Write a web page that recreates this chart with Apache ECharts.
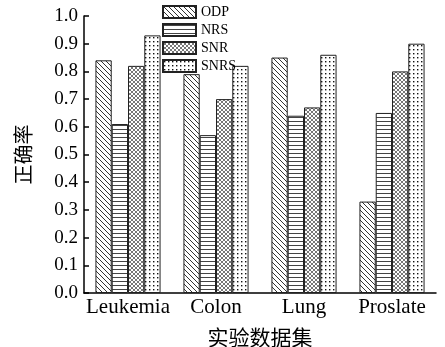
<!DOCTYPE html>
<html><head><meta charset="utf-8">
<script src="https://cdn.jsdelivr.net/npm/echarts@6/dist/echarts.min.js"></script>
<style>html,body{margin:0;padding:0;background:#fff}#c{width:445px;height:347px}</style>
</head><body><div id="c"></div>
<script>
const categories = ['Leukemia', 'Colon', 'Lung', 'Proslate'];
const seriesNames = ['ODP', 'NRS', 'SNR', 'SNRS'];
const odp = [0.84, 0.79, 0.85, 0.33];
const nrs = [0.61, 0.57, 0.64, 0.65];
const snr = [0.82, 0.70, 0.67, 0.80];
const snrs = [0.93, 0.82, 0.86, 0.90];
const yTicks = [0.0, 0.1, 0.2, 0.3, 0.4, 0.5, 0.6, 0.7, 0.8, 0.9, 1.0];
const xTitle = '实验数据集';
const yTitle = '正确率';

function pattern(kind) {
  const c = document.createElement('canvas');
  const ctx = c.getContext('2d');
  if (kind === 'diag') {
    c.width = 5; c.height = 5;
    ctx.fillStyle = '#fff'; ctx.fillRect(0, 0, 5, 5);
    ctx.strokeStyle = '#333'; ctx.lineWidth = 1;
    ctx.beginPath();
    ctx.moveTo(-1, -1); ctx.lineTo(6, 6);
    ctx.moveTo(-1, 4); ctx.lineTo(1, 6);
    ctx.moveTo(4, -1); ctx.lineTo(6, 1);
    ctx.stroke();
  } else if (kind === 'horiz') {
    c.width = 4; c.height = 4;
    ctx.fillStyle = '#fff'; ctx.fillRect(0, 0, 4, 4);
    ctx.fillStyle = '#444'; ctx.fillRect(0, 1, 4, 1);
  } else if (kind === 'cross') {
    c.width = 4; c.height = 4;
    ctx.fillStyle = '#fff'; ctx.fillRect(0, 0, 4, 4);
    ctx.strokeStyle = '#777'; ctx.lineWidth = 1;
    ctx.beginPath();
    ctx.moveTo(-1, -1); ctx.lineTo(5, 5);
    ctx.moveTo(5, -1); ctx.lineTo(-1, 5);
    ctx.stroke();
  } else {
    c.width = 4; c.height = 4;
    ctx.fillStyle = '#fff'; ctx.fillRect(0, 0, 4, 4);
    ctx.fillStyle = '#111'; ctx.fillRect(1, 1, 1.4, 1.4);
  }
  return { image: c, repeat: 'repeat' };
}

const kinds = ['diag', 'horiz', 'cross', 'dots'];
const values = [odp, nrs, snr, snrs];
const serif = '"Liberation Serif", "Times New Roman", "Noto Sans CJK SC", serif';

const chart = echarts.init(document.getElementById('c'), null, { renderer: 'canvas' });
chart.setOption({
  animation: false,
  backgroundColor: '#fff',
  legend: {
    orient: 'vertical', left: 162, top: 5, padding: 0,
    icon: 'rect',
    itemWidth: 33, itemHeight: 12, itemGap: 4,
    textStyle: { fontFamily: serif, fontSize: 14, color: '#000' },
    data: seriesNames
  },
  grid: { left: 84, right: 9, top: 16, bottom: 54, containLabel: false, outerBoundsMode: 'none' },
  xAxis: {
    type: 'category', data: categories,
    name: xTitle, nameLocation: 'middle', nameGap: 36,
    nameTextStyle: { fontFamily: serif, fontSize: 21, color: '#000' },
    axisLine: { lineStyle: { color: '#000', width: 1.5 } },
    axisTick: { show: false },
    axisLabel: { interval: 0, fontFamily: serif, fontSize: 21, color: '#000', margin: 4 }
  },
  yAxis: {
    type: 'value', min: 0, max: 1, interval: 0.1,
    name: yTitle, nameLocation: 'middle', nameGap: 48, nameRotate: 90,
    nameTextStyle: { fontFamily: serif, fontSize: 20, color: '#000' },
    axisLine: { show: true, lineStyle: { color: '#000', width: 1.5 } },
    axisTick: { show: true, inside: true, length: 5, lineStyle: { color: '#000', width: 1.5 } },
    splitLine: { show: false },
    axisLabel: { fontFamily: serif, fontSize: 19, color: '#000', margin: 6,
      formatter: v => yTicks.reduce((a, t) => Math.abs(t - v) < 1e-6 ? t.toFixed(1) : a, v.toFixed(1)) }
  },
  series: seriesNames.map((n, i) => ({
    name: n, type: 'bar', data: values[i],
    barGap: '0%', barCategoryGap: '26%',
    itemStyle: { color: pattern(kinds[i]), borderColor: '#222', borderWidth: 1 }
  }))
});
</script></body></html>
